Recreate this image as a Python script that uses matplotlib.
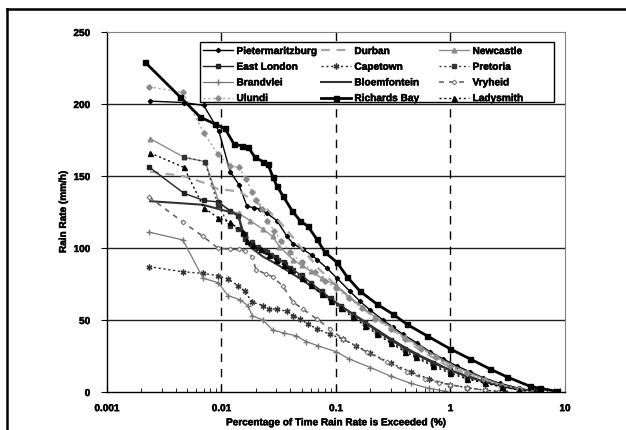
import matplotlib
matplotlib.use("Agg")
import matplotlib.pyplot as plt
from matplotlib.lines import Line2D
from matplotlib.patches import Rectangle
from matplotlib.legend import Legend
import matplotlib.patheffects as pe

plt.rcParams['font.family'] = ['Liberation Sans', 'DejaVu Sans']
plt.rcParams['font.weight'] = 'bold'

# ---------------- data (percentage of time exceeded, rain rate mm/h) ----------------
pmb_x = [0.00238, 0.0047, 0.0070, 0.0095, 0.0119, 0.0142, 0.0167, 0.0192, 0.0217, 0.025, 0.0305,
         0.0374, 0.0421, 0.0515, 0.0617, 0.0682, 0.0834, 0.102, 0.132, 0.162, 0.198, 0.257, 0.315,
         0.385, 0.51, 0.66, 0.86, 1.14, 1.48, 1.92, 2.7, 4.0, 5.5]
pmb_y = [202, 201, 199, 181, 153, 144, 129, 128, 127, 124, 119, 108, 103, 99, 95, 92, 86, 79, 70,
         63, 57, 50, 45, 40, 34, 28, 23, 18, 14, 10, 6, 2.5, 0.7]

durban_x = [0.00238, 0.0046, 0.0072, 0.0093, 0.0119, 0.0145, 0.018, 0.025, 0.035, 0.05, 0.07, 0.1,
            0.15, 0.2, 0.3, 0.5, 0.7, 1.0, 1.5, 2.0, 3.0, 4.0, 6.0]
durban_y = [153, 150, 145, 141, 140, 139, 134, 127, 115, 100, 86, 74, 62, 54, 44, 31, 24, 17, 11,
            7.5, 4, 2, 0.5]

newc_x = [0.00238, 0.0047, 0.0072, 0.0095, 0.0118, 0.0142, 0.0178, 0.023, 0.028, 0.032, 0.042, 0.05,
          0.06, 0.075, 0.1, 0.13, 0.17, 0.22, 0.3, 0.4, 0.55, 0.75, 1.0, 1.4, 2.0, 2.8, 4.0, 5.5]
newc_y = [176, 163, 160, 132, 126, 124, 119, 113, 108, 101, 92, 88, 84, 79, 74, 66, 59, 52, 45, 38,
          31, 25, 19, 14, 9, 5, 2, 0.5]

el_x = [0.00235, 0.0047, 0.0070, 0.0093, 0.0118, 0.0140, 0.0153, 0.016, 0.018, 0.021, 0.025, 0.030,
        0.035, 0.04, 0.05, 0.06, 0.075, 0.09, 0.11, 0.14, 0.18, 0.23, 0.3, 0.4, 0.5, 0.7, 1.0, 1.4,
        2.0, 2.8, 4.0, 5.5]
el_y = [156, 138, 133, 132, 126, 122, 110, 106, 103, 100, 97, 94, 90, 86, 81, 76, 70, 65, 60, 54,
        48, 42, 36, 30, 26, 20, 15, 10.5, 7, 4, 2, 0.6]

cape_x = [0.00233, 0.0046, 0.0069, 0.0093, 0.0114, 0.0139, 0.016, 0.0185, 0.023, 0.026, 0.0305,
          0.037, 0.042, 0.0485, 0.057, 0.068, 0.0887, 0.115, 0.15, 0.2, 0.3, 0.45, 0.65, 1.0, 1.4,
          2.0, 3.0]
cape_y = [87, 83.5, 82.4, 80.8, 78.5, 73.8, 70, 62.5, 60, 57.6, 57.6, 56, 53, 51, 47, 44, 40, 36.8,
          32, 27, 20, 14, 9, 5, 3, 1.2, 0.3]

pret_x = [0.0047, 0.0072, 0.0093, 0.0118, 0.014, 0.016, 0.0185, 0.021, 0.024, 0.027, 0.031, 0.036,
          0.042, 0.05, 0.06, 0.075, 0.09, 0.11, 0.14, 0.18, 0.23, 0.3, 0.4, 0.5, 0.7, 1.0, 1.4, 2.0,
          2.8, 4.0, 5.0]
pret_y = [163, 160, 130, 115, 113, 110, 104, 101, 98, 95, 92, 89, 85, 80, 75, 69, 64, 59, 53, 47,
          41, 35, 29, 25, 19, 14, 10, 6.5, 3.5, 1.5, 0.5]

brand_x = [0.00233, 0.0046, 0.0069, 0.0093, 0.0114, 0.0145, 0.017, 0.0185, 0.023, 0.028, 0.035,
           0.045, 0.055, 0.07, 0.1, 0.13, 0.2, 0.3, 0.45, 0.65, 0.9]
brand_y = [111, 105.6, 79, 76, 67, 64, 60, 53, 50, 43, 41, 39, 35, 32, 28, 23, 17, 11, 6, 2.5, 0.5]

bloem_x = [0.00238, 0.0046, 0.0069, 0.0095, 0.0119, 0.014, 0.0152, 0.0165, 0.019, 0.023, 0.03, 0.04,
           0.05, 0.065, 0.08, 0.1, 0.13, 0.17, 0.22, 0.3, 0.4, 0.55, 0.75, 1.0, 1.4, 2.0, 3.0, 4.5]
bloem_y = [132.5, 131, 130, 127, 125, 123, 113, 104, 99, 94, 89, 83, 78, 72, 67, 62, 56, 50, 44, 37,
           31, 25, 20, 15, 11, 7, 3.5, 1]

vry_x = [0.00233, 0.0046, 0.0069, 0.0093, 0.0118, 0.0142, 0.016, 0.0185, 0.020, 0.0245, 0.028,
         0.0344, 0.042, 0.0514, 0.068, 0.0887, 0.115, 0.186, 0.278, 0.417, 0.6, 0.8, 1.0, 1.4, 2.0, 2.6]
vry_y = [135.5, 118, 108, 100, 99, 99, 98, 94, 85, 82, 80, 73.6, 62.5, 57.6, 50.7, 43.8, 36.8, 27.8,
         20.8, 13.9, 9, 6.5, 5, 3, 1.2, 0.3]

ulundi_x = [0.00233, 0.0046, 0.0070, 0.0093, 0.0119, 0.0142, 0.0163, 0.0185, 0.020, 0.0225, 0.025,
            0.029, 0.033, 0.04, 0.05, 0.065, 0.08, 0.1, 0.13, 0.17, 0.22, 0.3, 0.4, 0.55, 0.75, 1.0,
            1.4, 2.0, 2.8, 4.0, 5.0]
ulundi_y = [212, 208, 180, 165, 157, 156, 148, 139, 133, 127, 119, 112, 105, 97, 90, 83, 77, 72, 65,
            58, 51, 44, 37, 30, 24, 18, 13, 8, 4.5, 2, 0.8]

rb_x = [0.00215, 0.00434, 0.0065, 0.0088, 0.0107, 0.0129, 0.0151, 0.0171, 0.0196, 0.023, 0.0255,
        0.0282, 0.0305, 0.0345, 0.0413, 0.0485, 0.0569, 0.0682, 0.0802, 0.102, 0.125, 0.162, 0.228,
        0.315, 0.417, 0.624, 0.99, 1.48, 2.21, 3.11, 4.94, 6.05, 8.5]
rb_y = [229, 205, 191, 186, 183, 172, 171, 170, 163, 160, 158, 149, 143, 136, 126, 119, 115, 106, 97,
        90, 80, 70, 61, 54, 47, 39, 30, 23, 16, 10.5, 4, 2.5, 0.5]

lady_x = [0.00238, 0.0047, 0.0070, 0.0093, 0.0118, 0.0154, 0.0167, 0.019, 0.022, 0.026, 0.03, 0.035,
          0.04, 0.05, 0.06, 0.075, 0.09, 0.11, 0.14, 0.18, 0.23, 0.3, 0.4, 0.5, 0.7, 1.0, 1.4, 2.0,
          2.8, 4.0, 6.3]
lady_y = [166, 156, 128, 121, 118, 111, 105, 102, 99, 95, 92, 88, 85, 79, 74, 68, 63, 58, 52, 46, 40,
          34, 28, 24, 18, 13, 9, 6, 3.5, 1.5, 0.2]

x_ticks = [0.001, 0.01, 0.1, 1, 10]
x_ticklabels = ['0.001', '0.01', '0.1', '1', '10']
y_ticks = [0, 50, 100, 150, 200, 250]

# ---------------- figure ----------------
fig = plt.figure(figsize=(6.26, 4.31), dpi=100)
ax = fig.add_axes([107/626, 1-393/431, (565-107)/626, (393-33)/431])

G1 = '#8c8c8c'
G2 = '#a6a6a6'
K = '#000000'
bold_fx = [pe.withStroke(linewidth=0.35, foreground='black')]

series = {}
series['Pietermaritzburg'] = ax.plot(pmb_x, pmb_y, color=K, lw=1.0, marker='D', ms=2.2, mfc=K, mec=K)[0]
series['Durban'] = ax.plot(durban_x, durban_y, color=G2, lw=1.6, ls=(0, (4, 3)))[0]
series['Newcastle'] = ax.plot(newc_x, newc_y, color=G1, lw=1.0, marker='^', ms=3.4, mfc=G1, mec=G1)[0]
series['East London'] = ax.plot(el_x, el_y, color='#222222', lw=1.0, marker='s', ms=3.0, mfc='#222222', mec='#222222')[0]
series['Capetown'] = ax.plot(cape_x, cape_y, color='#222222', lw=1.0, ls=(0, (1.5, 2)), marker=(6, 2, 0), ms=4.2, mec='#333333')[0]
series['Pretoria'] = ax.plot(pret_x, pret_y, color='#333333', lw=1.0, ls=(0, (1.5, 2)), marker='s', ms=3.0, mfc='#333333', mec='#333333')[0]
series['Brandvlei'] = ax.plot(brand_x, brand_y, color='#777777', lw=0.9, marker='+', ms=4.0, mec='#777777')[0]
series['Bloemfontein'] = ax.plot(bloem_x, bloem_y, color='#333333', lw=1.5)[0]
series['Vryheid'] = ax.plot(vry_x, vry_y, color='#666666', lw=1.2, ls=(0, (3, 3)), marker='D', ms=2.4, mfc='white', mec='#777777', mew=0.8)[0]
series['Ulundi'] = ax.plot(ulundi_x, ulundi_y, color=G2, lw=1.0, ls=(0, (1.5, 2)), marker='D', ms=2.8, mfc=G1, mec=G1)[0]
series['Richards Bay'] = ax.plot(rb_x, rb_y, color=K, lw=2.0, marker='s', ms=3.6, mfc=K, mec=K)[0]
series['Ladysmith'] = ax.plot(lady_x, lady_y, color=K, lw=1.0, ls=(0, (1.5, 2)), marker='^', ms=3.6, mfc=K, mec=K)[0]

ax.set_xscale('log')
ax.set_xlim(0.001, 10)
ax.set_ylim(0, 250)

# grid lines
for yv in [50, 100, 150, 200]:
    ax.axhline(yv, color='#222222', lw=1.0, zorder=0)
for xv in [0.01, 0.1, 1]:
    ax.axvline(xv, color='#000000', lw=1.0, ls=(0, (6, 5)), zorder=0)

ax.set_xticks(x_ticks)
ax.set_xticklabels(x_ticklabels)
ax.set_yticks(y_ticks)
ax.tick_params(axis='x', which='major', direction='in', length=5, labelsize=7.2, pad=8, labelcolor='black')
ax.tick_params(axis='x', which='minor', direction='in', length=3)
ax.tick_params(axis='y', which='major', direction='out', length=4, labelsize=7.2, pad=8, labelcolor='black')
for lab in ax.get_xticklabels() + ax.get_yticklabels():
    lab.set_fontweight('bold')
    lab.set_path_effects(bold_fx)

ax.spines['left'].set_color('black')
ax.spines['bottom'].set_color('black')
ax.spines['left'].set_linewidth(1.0)
ax.spines['bottom'].set_linewidth(1.0)
ax.spines['top'].set_color('#808080')
ax.spines['right'].set_color('#808080')

xl = ax.set_xlabel('Percentage of Time Rain Rate is Exceeded (%)', fontsize=7.2, fontweight='bold', labelpad=3)
yl = ax.set_ylabel('Rain Rate (mm/h)', fontsize=7.2, fontweight='bold', labelpad=4)
xl.set_path_effects(bold_fx)
yl.set_path_effects(bold_fx)

# legend: frame + three equal-width columns (row-wise order)
frame = Rectangle((0.203, 0.8056), 0.773, 0.1664, transform=ax.transAxes, facecolor='white',
                  edgecolor='black', lw=1.0, zorder=5)
ax.add_patch(frame)
columns = [['Pietermaritzburg', 'East London', 'Brandvlei', 'Ulundi'],
           ['Durban', 'Capetown', 'Bloemfontein', 'Richards Bay'],
           ['Newcastle', 'Pretoria', 'Vryheid', 'Ladysmith']]
col_x = [0.2096, 0.467, 0.725]
for cx, names in zip(col_x, columns):
    lg = Legend(ax, [series[k] for k in names], names, loc='upper left',
                bbox_to_anchor=(cx, 0.961), bbox_transform=ax.transAxes,
                prop={'size': 7.3, 'weight': 'bold'},
                frameon=False, handlelength=3.0, handletextpad=0.3,
                labelspacing=0.56, borderpad=0.0, borderaxespad=0.0)
    for t in lg.get_texts():
        t.set_path_effects(bold_fx)
    lg.set_zorder(6)
    ax.add_artist(lg)

# outer chart frame
fig.add_artist(Line2D([7/626, 1.0], [1-10/431, 1-10/431], transform=fig.transFigure, color='black', lw=1.8))
fig.add_artist(Line2D([7/626, 7/626], [0.0, 1-10/431], transform=fig.transFigure, color='black', lw=1.8))

fig.savefig('out.png', dpi=100)
